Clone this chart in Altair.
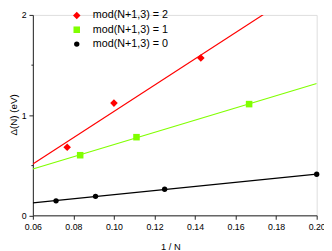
import altair as alt
import pandas as pd

# ---- data ----
series_names = ["mod(N+1,3) = 2", "mod(N+1,3) = 1", "mod(N+1,3) = 0"]
series_colors = ["#FF0000", "#80FF00", "#000000"]
series_shapes = ["diamond", "square", "circle"]
series_sizes = [60, 30, 42]

n_mod2 = [13, 10, 7]
gap_mod2 = [0.68, 1.12, 1.57]
n_mod1 = [12, 9, 6]
gap_mod1 = [0.60, 0.78, 1.11]
n_mod0 = [14, 11, 8, 5]
gap_mod0 = [0.145, 0.19, 0.26, 0.41]

x_tick_values = [0.06, 0.07, 0.08, 0.09, 0.10, 0.11, 0.12, 0.13, 0.14,
                 0.15, 0.16, 0.17, 0.18, 0.19, 0.20]
y_tick_values = [0, 0.5, 1, 1.5, 2]
x_domain = [0.06, 0.20]
y_domain = [0, 2]

rows = []
for name, ns, gaps in zip(series_names, [n_mod2, n_mod1, n_mod0],
                          [gap_mod2, gap_mod1, gap_mod0]):
    for n, g in zip(ns, gaps):
        rows.append({"series": name, "N": n, "inv_n": 1.0 / n, "gap": g})
df = pd.DataFrame(rows)

fit_names = ["fit " + s for s in series_names]

FONT = "Liberation Sans"
AX = "#222222"

x_axis = alt.Axis(
    values=x_tick_values,
    labelExpr="round(datum.value * 100) % 2 == 0 ? format(datum.value, '.2f') : ''",
    tickSize={"condition": {"test": "round(datum.value * 100) % 2 == 0", "value": 4}, "value": 2},
    labelOverlap=False, labelFlush=False, grid=False,
    domainColor=AX, tickColor=AX, labelColor="#000000",
    labelFont=FONT, labelFontSize=9, labelPadding=4,
    title="1 / N", titleFont=FONT, titleFontSize=9.5, titleFontWeight="normal",
    titleColor="#000000", titleX=141, titleY=32, titleBaseline="middle",
    titleAlign="center",
)
y_axis = alt.Axis(
    values=y_tick_values,
    labelExpr="datum.value % 1 == 0 ? format(datum.value, 'd') : ''",
    tickSize={"condition": {"test": "datum.value % 1 == 0", "value": 4}, "value": 2},
    labelOverlap=False, labelFlush=False, grid=False,
    domainColor=AX, tickColor=AX, labelColor="#000000",
    labelFont=FONT, labelFontSize=9, labelPadding=3,
    title="Δ(N)  (eV)", titleFont=FONT, titleFontSize=10, titleFontWeight="normal",
    titleColor="#000000", titleAngle=270, titleX=-19.5, titleY=102,
    titleAlign="center", titleBaseline="middle",
)

xs = alt.Scale(domain=x_domain, nice=False, zero=False)
ys = alt.Scale(domain=y_domain, nice=False, zero=False)

lines = alt.Chart(df).transform_regression(
    "inv_n", "gap", groupby=["series"], extent=x_domain
).transform_calculate(
    fit_series="'fit ' + datum.series"
).mark_line(clip=True, strokeWidth=1.2).encode(
    x=alt.X("inv_n:Q", scale=xs, axis=x_axis),
    y=alt.Y("gap:Q", scale=ys, axis=y_axis),
    stroke=alt.Stroke("fit_series:N", scale=alt.Scale(domain=fit_names, range=series_colors), legend=None),
)

legend = alt.Legend(title=None, orient="none", legendX=39.5, legendY=-5,
                    direction="vertical", padding=0, rowPadding=2.7,
                    labelFont=FONT, labelFontSize=11, labelColor="#000000",
                    labelOffset=11, symbolStrokeWidth=0, symbolOpacity=1)

points = alt.Chart(df).mark_point(filled=True, opacity=1, strokeWidth=0).encode(
    x=alt.X("inv_n:Q", scale=xs),
    y=alt.Y("gap:Q", scale=ys),
    color=alt.Color("series:N", scale=alt.Scale(domain=series_names, range=series_colors),
                    legend=legend),
    shape=alt.Shape("series:N", scale=alt.Scale(domain=series_names, range=series_shapes),
                    legend=legend),
    size=alt.Size("series:N", scale=alt.Scale(domain=series_names, range=series_sizes),
                  legend=legend),
)

chart = alt.layer(lines, points).properties(
    width=291, height=205.5,
    autosize=alt.AutoSizeParams(type="none"),
    padding={"left": 25.5, "top": 4, "right": 7.5, "bottom": 35},
).configure_view(stroke=None).configure(background="white")

chart.save("out.html", embed_options={"renderer": "svg", "actions": False})
